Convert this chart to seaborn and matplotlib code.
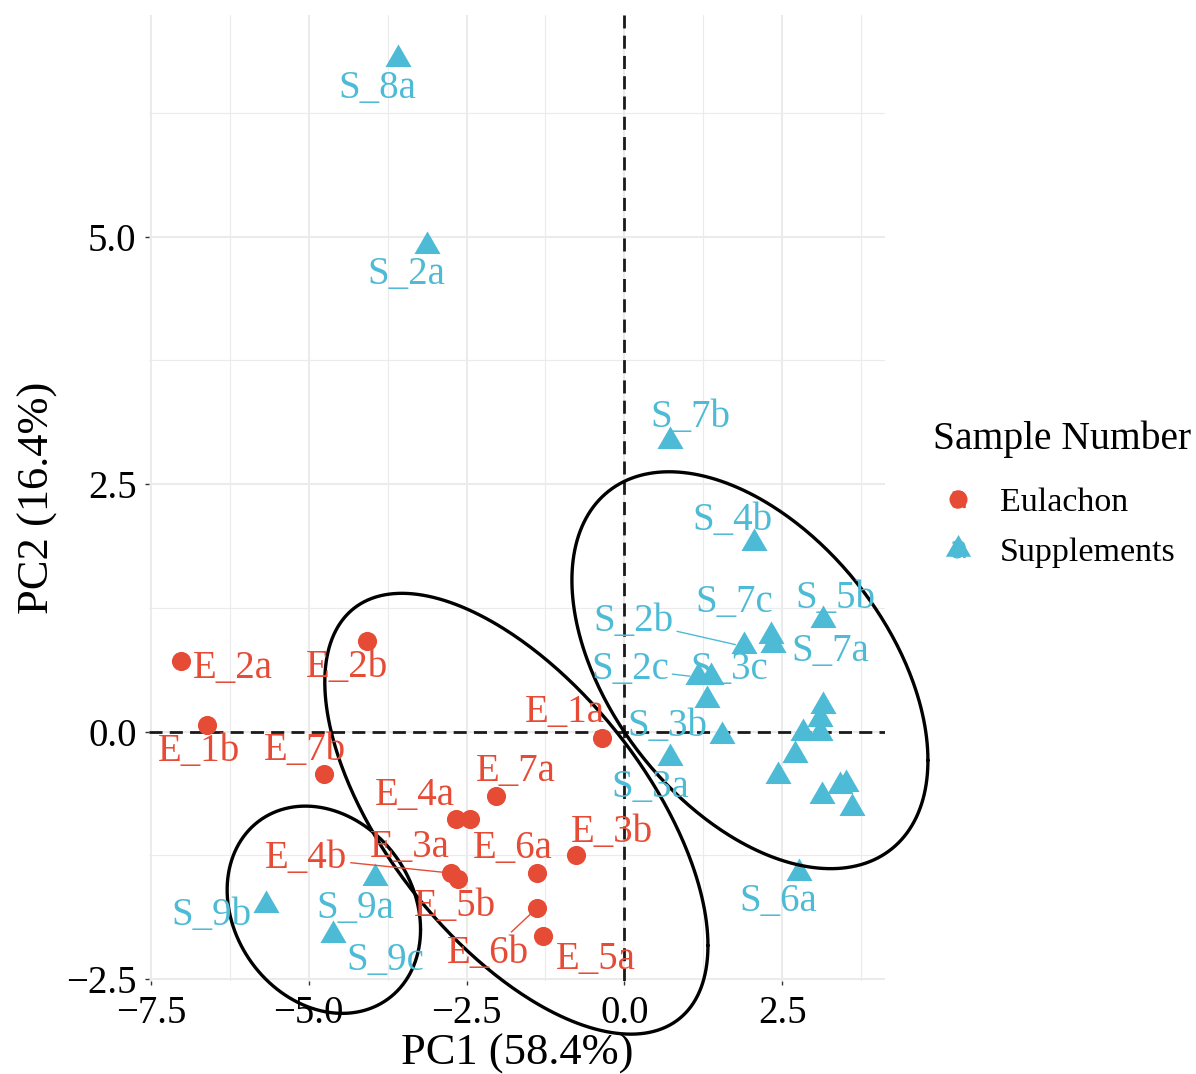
import numpy as np
import pandas as pd
import matplotlib
matplotlib.use("Agg")
import matplotlib.pyplot as plt
from matplotlib.lines import Line2D
from matplotlib.legend_handler import HandlerTuple
import seaborn as sns

# ---------------- data ----------------
e_names = ['E_1a', 'E_1b', 'E_2a', 'E_2b', 'E_3a', 'E_3b', 'E_4a',
           'E_4b', 'E_5a', 'E_5b', 'E_6a', 'E_6b', 'E_7a', 'E_7b']
e_pc1 = [-0.36, -6.61, -7.02, -4.08, -2.45, -0.76, -2.66,
         -2.74, -1.29, -2.63, -1.38, -1.38, -2.03, -4.75]
e_pc2 = [-0.06, 0.07, 0.71, 0.92, -0.88, -1.25, -0.88,
         -1.43, -2.07, -1.49, -1.43, -1.78, -0.65, -0.43]

s_names = ['S_2a', 'S_2b', 'S_2c', 'S_3a', 'S_3b', 'S_3c', 'S_4b', 'S_5b',
           'S_6a', 'S_7a', 'S_7b', 'S_7c', 'S_8a', 'S_9a', 'S_9b', 'S_9c',
           'S_1a', 'S_1b', 'S_1c', 'S_4a', 'S_4c', 'S_5a', 'S_5c', 'S_6b',
           'S_6c', 'S_8b', 'S_8c']
s_pc1 = [-3.13, 1.89, 1.17, 0.72, 1.54, 1.38, 2.05, 3.15,
         2.76, 2.36, 0.73, 2.33, -3.59, -3.95, -5.67, -4.61,
         1.31, 3.15, 3.10, 2.83, 3.10, 2.70, 2.44, 3.13,
         3.41, 3.51, 3.60]
s_pc2 = [4.91, 0.86, 0.55, -0.27, -0.04, 0.55, 1.91, 1.13,
         -1.43, 0.87, 2.94, 0.97, 6.80, -1.48, -1.75, -2.06,
         0.32, 0.26, 0.13, -0.01, -0.01, -0.24, -0.45, -0.65,
         -0.55, -0.53, -0.77]

groups = ['Eulachon', 'Supplements']
x_title = 'PC1 (58.4%)'
y_title = 'PC2 (16.4%)'
legend_title = 'Sample Number'
x_ticks = [-7.5, -5.0, -2.5, 0.0, 2.5]
y_ticks = [-2.5, 0.0, 2.5, 5.0]

# ellipses: centre x, centre y, half-extent x, half-extent y, phase (deg)
ell_cx = [1.99, -1.71, -4.76]
ell_cy = [0.62, -0.83, -1.80]
ell_ax = [2.82, 3.035, 1.532]
ell_ay = [2.005, 2.227, 1.047]
ell_phase = [117, 126.7, 101]

# ---------------- styling / layout ----------------
RED = '#E64B35'
BLUE = '#4DBBD5'
palette = {'Eulachon': RED, 'Supplements': BLUE}

# label offsets in pixels (dx right, dy down) relative to the point
label_offsets = {
    'S_8a': (-20, 30), 'S_2a': (-20, 29), 'S_7b': (20, -23), 'S_4b': (-21, -22),
    'S_5b': (12, -21), 'S_7c': (-37, -33), 'S_7a': (57, 6), 'S_2b': (-110, -25),
    'S_2c': (-68, -8), 'S_3c': (18, -8), 'S_3b': (-54, -9), 'S_3a': (-20, 29),
    'S_6a': (-20, 28), 'S_9a': (-20, 30), 'S_9b': (-55, 11), 'S_9c': (52, 25),
    'E_2a': (52, 7), 'E_2b': (-20, 27), 'E_1b': (-8, 27), 'E_7b': (-20, -24),
    'E_1a': (-37, -25), 'E_7a': (20, -24), 'E_4a': (-42, -23), 'E_3a': (-60, 29),
    'E_6a': (-24, -25), 'E_3b': (36, -23), 'E_4b': (-145, -15), 'E_5b': (-3, 27),
    'E_6b': (-49, 46), 'E_5a': (53, 23),
}
leader = {'S_2b', 'S_2c', 'E_4b', 'E_3a', 'E_6b', 'E_7a', 'S_7b'}

df = pd.concat([
    pd.DataFrame({'name': e_names, 'PC1': e_pc1, 'PC2': e_pc2, 'group': 'Eulachon'}),
    pd.DataFrame({'name': s_names, 'PC1': s_pc1, 'PC2': s_pc2, 'group': 'Supplements'}),
], ignore_index=True)

sns.set_theme(style='white')
plt.rcParams['font.family'] = ['Liberation Serif', 'DejaVu Serif']
plt.rcParams['axes.unicode_minus'] = True
plt.rcParams['text.color'] = 'black'

fig = plt.figure(figsize=(11.96, 10.74), dpi=100)
ax = fig.add_axes([149 / 1196, 1 - 981 / 1074, (885 - 149) / 1196, (981 - 15) / 1074])
ax.set_xlim(-7.53, 4.13)
ax.set_ylim(-2.52, 7.24)

# grid
for v in np.arange(-6.25, 4.2, 2.5):
    ax.axvline(v, color='#ebebeb', lw=0.8, zorder=0)
for v in np.arange(-1.25, 7.3, 2.5):
    ax.axhline(v, color='#ebebeb', lw=0.8, zorder=0)
for v in x_ticks:
    ax.axvline(v, color='#ebebeb', lw=1.5, zorder=0)
for v in y_ticks:
    ax.axhline(v, color='#ebebeb', lw=1.5, zorder=0)

ax.axhline(0, color='#1a1a1a', lw=2, dashes=(4.7, 2.6), zorder=1)
ax.axvline(0, color='#1a1a1a', lw=2, dashes=(4.7, 2.6), zorder=1)

tri = [(0, 1), (-0.866, -0.5), (0.866, -0.5)]
sub_e = df[df.group == 'Eulachon']
sub_s = df[df.group == 'Supplements']
sns.scatterplot(data=sub_e, x='PC1', y='PC2', color=RED, marker='o', s=190,
                linewidth=0, ax=ax, legend=False, zorder=3)
sns.scatterplot(data=sub_s, x='PC1', y='PC2', color=BLUE, marker=tri, s=470,
                linewidth=0, ax=ax, legend=False, zorder=3)

# ellipses
t = np.linspace(0, 2 * np.pi, 400)
for cx, cy, a, b, ph in zip(ell_cx, ell_cy, ell_ax, ell_ay, ell_phase):
    ex = cx + a * np.cos(t)
    ey = cy + b * np.cos(t - np.deg2rad(ph))
    ax.plot(ex, ey, color='black', lw=2.4, zorder=4, clip_on=False)

# labels
for _, r in df.iterrows():
    if r['name'] not in label_offsets:
        continue
    dx, dy = label_offsets[r['name']]
    col = palette[r['group']]
    kw = dict(textcoords='offset points', ha='center', va='center',
              fontsize=28, color=col, zorder=5)
    if r['name'] in leader:
        kw['arrowprops'] = dict(arrowstyle='-', color=col, lw=1.0,
                                shrinkA=0, shrinkB=6)
    ax.annotate(r['name'], xy=(r['PC1'], r['PC2']),
                xytext=(dx * 0.72, -dy * 0.72), **kw)

ax.set_xticks(x_ticks)
ax.set_yticks(y_ticks)
ax.set_xticklabels([f'{v:.1f}'.replace('-', '\u2212') for v in x_ticks])
ax.set_yticklabels([f'{v:.1f}'.replace('-', '\u2212') for v in y_ticks])
ax.tick_params(axis='both', length=3, width=1, color='#333333', labelsize=28,
               labelcolor='black', bottom=True, left=True)
ax.tick_params(axis='x', pad=7)
ax.tick_params(axis='y', pad=6)
for sp in ax.spines.values():
    sp.set_visible(False)
ax.grid(False)
ax.set_xlabel(x_title, fontsize=32, color='black', labelpad=1)
ax.set_ylabel(y_title, fontsize=32, color='black', labelpad=6)

# legend
handles = []
for g, m, ms in [('Eulachon', 'o', 13), ('Supplements', tri, 21)]:
    h_a = Line2D([], [], linestyle='none', marker='$\\mathrm{a}$', color=palette[g],
                 markersize=13, markeredgewidth=0)
    h_m = Line2D([], [], linestyle='none', marker=m, color=palette[g],
                 markersize=ms, markeredgewidth=0)
    handles.append((h_a, h_m))
leg = fig.legend(handles, groups, title=legend_title,
                 handler_map={tuple: HandlerTuple(ndivide=1, pad=0)},
                 loc='center left', bbox_to_anchor=(933 / 1196, 1 - 494 / 1074),
                 frameon=False, fontsize=24.5, title_fontsize=28.5,
                 handletextpad=0.5, labelspacing=0.55, borderpad=0,
                 borderaxespad=0, handlelength=1.47, labelcolor='black')
leg.get_title().set_color('black')
leg._legend_box.align = 'left'
leg._legend_box.sep = 21

fig.savefig('out.png', dpi=100)
